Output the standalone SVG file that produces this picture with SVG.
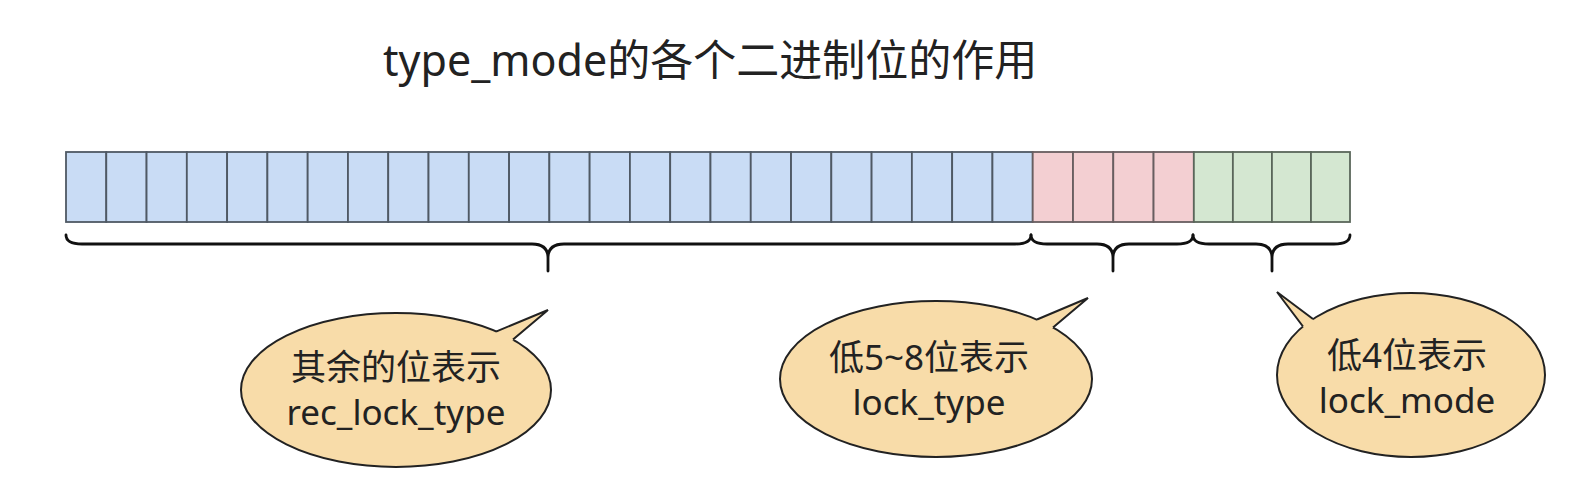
<svg xmlns="http://www.w3.org/2000/svg" width="1579" height="479" viewBox="0 0 1579 479">
<style>
.t{font-family:"Noto Sans","Noto Sans CJK SC",sans-serif;fill:#222;}
.title{font-size:43px;}
.lbl{font-size:35px;text-anchor:middle;}
.cb{fill:#c9dcf5;stroke:#4f5964;stroke-width:1.8;}
.cr{fill:#f3cfd2;stroke:#685e60;stroke-width:1.8;}
.cg{fill:#d4e7d1;stroke:#5a665a;stroke-width:1.8;}
.brace{fill:none;stroke:#111;stroke-width:2.8;stroke-linecap:round;stroke-linejoin:round;}
.bub{fill:#f8dca9;stroke:#222;stroke-width:2;}
.tailfill{fill:#f8dca9;stroke:none;}
.tailline{fill:none;stroke:#222;stroke-width:2;stroke-linejoin:miter;}
</style>
<rect x="0" y="0" width="1579" height="479" fill="#ffffff"/>
<text class="t title" x="383" y="76">type_mode的各个二进制位的作用</text>

<g id="bits-rest">
<rect class="cb" x="66" y="152" width="40.28" height="70"/>
<rect class="cb" x="106.28" y="152" width="40.28" height="70"/>
<rect class="cb" x="146.56" y="152" width="40.28" height="70"/>
<rect class="cb" x="186.84" y="152" width="40.28" height="70"/>
<rect class="cb" x="227.12" y="152" width="40.28" height="70"/>
<rect class="cb" x="267.4" y="152" width="40.28" height="70"/>
<rect class="cb" x="307.68" y="152" width="40.28" height="70"/>
<rect class="cb" x="347.96" y="152" width="40.28" height="70"/>
<rect class="cb" x="388.24" y="152" width="40.28" height="70"/>
<rect class="cb" x="428.52" y="152" width="40.28" height="70"/>
<rect class="cb" x="468.8" y="152" width="40.28" height="70"/>
<rect class="cb" x="509.08" y="152" width="40.28" height="70"/>
<rect class="cb" x="549.36" y="152" width="40.28" height="70"/>
<rect class="cb" x="589.64" y="152" width="40.28" height="70"/>
<rect class="cb" x="629.92" y="152" width="40.28" height="70"/>
<rect class="cb" x="670.2" y="152" width="40.28" height="70"/>
<rect class="cb" x="710.48" y="152" width="40.28" height="70"/>
<rect class="cb" x="750.76" y="152" width="40.28" height="70"/>
<rect class="cb" x="791.04" y="152" width="40.28" height="70"/>
<rect class="cb" x="831.32" y="152" width="40.28" height="70"/>
<rect class="cb" x="871.6" y="152" width="40.28" height="70"/>
<rect class="cb" x="911.88" y="152" width="40.28" height="70"/>
<rect class="cb" x="952.16" y="152" width="40.28" height="70"/>
<rect class="cb" x="992.44" y="152" width="40.28" height="70"/>
</g>
<g id="bits-type">
<rect class="cr" x="1032.72" y="152" width="40.28" height="70"/>
<rect class="cr" x="1073" y="152" width="40.28" height="70"/>
<rect class="cr" x="1113.28" y="152" width="40.28" height="70"/>
<rect class="cr" x="1153.56" y="152" width="40.28" height="70"/>
</g>
<g id="bits-mode">
<rect class="cg" x="1193.84" y="152" width="39.04" height="70"/>
<rect class="cg" x="1232.88" y="152" width="39.04" height="70"/>
<rect class="cg" x="1271.92" y="152" width="39.04" height="70"/>
<rect class="cg" x="1310.96" y="152" width="39.04" height="70"/>
</g>

<g id="connectors">
<path class="brace" d="M66 235 C66 241 71 244 82 244 L532 244 C543 244 548 249 548 258 L548 271 M548 258 C548 249 553 244 564 244 L1015 244 C1026 244 1031 241 1031 235"/>
<path class="brace" d="M1031 235 C1031 241 1036 244 1047 244 L1097 244 C1108 244 1113 249 1113 258 L1113 271 M1113 258 C1113 249 1118 244 1129 244 L1177 244 C1188 244 1193 241 1193 235"/>
<path class="brace" d="M1193 235 C1193 241 1198 244 1209 244 L1256 244 C1267 244 1272 249 1272 258 L1272 271 M1272 258 C1272 249 1277 244 1288 244 L1334 244 C1345 244 1350 241 1350 235"/>
</g>

<g id="callout-rest">
<ellipse class="bub" cx="396" cy="390" rx="155" ry="77"/>
<polygon class="tailfill" points="496,332 548,310 514,340 490,350"/>
<polyline class="tailline" points="496,331.6 548,310 513,339.5"/>
<text class="t lbl" x="396" y="380">其余的位表示</text>
<text class="t lbl" x="396" y="425">rec_lock_type</text>
</g>

<g id="callout-type">
<ellipse class="bub" cx="936" cy="379" rx="156" ry="78"/>
<polygon class="tailfill" points="1037,320 1088,298 1053,328 1030,338"/>
<polyline class="tailline" points="1037,319.5 1088,298 1053,327.4"/>
<text class="t lbl" x="929" y="370">低5~8位表示</text>
<text class="t lbl" x="929" y="415">lock_type</text>
</g>

<g id="callout-mode">
<ellipse class="bub" cx="1411" cy="375" rx="134" ry="82"/>
<polygon class="tailfill" points="1313,319.5 1277,292 1303,327 1320,332"/>
<polyline class="tailline" points="1313,319 1277,292 1303,326.5"/>
<text class="t lbl" x="1407" y="368">低4位表示</text>
<text class="t lbl" x="1407" y="413">lock_mode</text>
</g>
</svg>
